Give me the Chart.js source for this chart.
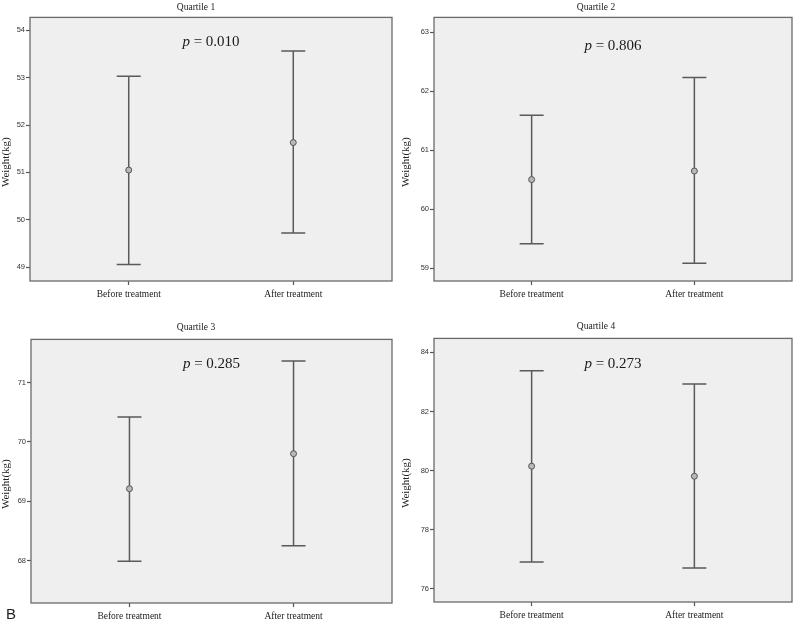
<!DOCTYPE html>
<html><head><meta charset="utf-8">
<script src="https://cdn.jsdelivr.net/npm/chart.js@4.4.0/dist/chart.umd.min.js"></script>
<style>
body{margin:0;background:#fff;width:800px;height:625px;position:relative;overflow:hidden}
.p{position:absolute}
#lblB{position:absolute;left:6px;top:605px;font:15px "Liberation Sans",Arial,sans-serif;color:#222;line-height:18px}
</style></head><body>
<div class="p" style="left:0;top:0;width:400px;height:310px"><canvas id="c1" width="400" height="310"></canvas></div>
<div class="p" style="left:400px;top:0;width:400px;height:310px"><canvas id="c2" width="400" height="310"></canvas></div>
<div class="p" style="left:0;top:310px;width:400px;height:315px"><canvas id="c3" width="400" height="315"></canvas></div>
<div class="p" style="left:400px;top:310px;width:400px;height:315px"><canvas id="c4" width="400" height="315"></canvas></div>
<div id="lblB">B</div>
<script>
// ---- data ----
const categories = ['Before treatment', 'After treatment'];
const panelTitles = ['Quartile 1', 'Quartile 2', 'Quartile 3', 'Quartile 4'];
const pValues = ['0.010', '0.806', '0.285', '0.273'];

const q1Mean = [51.05, 51.63];
const q1Lower = [49.06, 49.72];
const q1Upper = [53.03, 53.56];
const q1Ticks = [49, 50, 51, 52, 53, 54];

const q2Mean = [60.50, 60.645];
const q2Lower = [59.41, 59.08];
const q2Upper = [61.59, 62.23];
const q2Ticks = [59, 60, 61, 62, 63];

const q3Mean = [69.21, 69.80];
const q3Lower = [67.99, 68.25];
const q3Upper = [70.42, 71.36];
const q3Ticks = [68, 69, 70, 71];

const q4Mean = [80.15, 79.81];
const q4Lower = [76.91, 76.71];
const q4Upper = [83.38, 82.93];
const q4Ticks = [76, 78, 80, 82, 84];

const SERIF = '"Liberation Serif","Times New Roman",serif';
const SANS = '"Liberation Sans",Arial,sans-serif';

const panelPlugin = {
  id: 'panel',
  beforeDraw(chart, args, o) {
    const {ctx, chartArea: a} = chart;
    ctx.save();
    ctx.fillStyle = '#efefef';
    ctx.fillRect(a.left, a.top, a.width, a.height);
    ctx.restore();
  },
  beforeDatasetsDraw(chart, args, o) {
    const {ctx, scales: {x, y}} = chart;
    ctx.save();
    ctx.strokeStyle = '#5a5a5a';
    ctx.lineWidth = 1.5;
    const cap = 12;
    o.lower.forEach((lo, i) => {
      const px = x.getPixelForValue(i);
      const pl = y.getPixelForValue(lo);
      const pu = y.getPixelForValue(o.upper[i]);
      ctx.beginPath();
      ctx.moveTo(px, pl); ctx.lineTo(px, pu);
      ctx.moveTo(px - cap, pl); ctx.lineTo(px + cap, pl);
      ctx.moveTo(px - cap, pu); ctx.lineTo(px + cap, pu);
      ctx.stroke();
    });
    ctx.restore();
  },
  afterDraw(chart, args, o) {
    const {ctx, chartArea: a} = chart;
    ctx.save();
    ctx.strokeStyle = '#6a6a6a';
    ctx.lineWidth = 1.3;
    ctx.strokeRect(a.left, a.top, a.width, a.height);
    // p-value annotation
    ctx.fillStyle = '#1a1a1a';
    ctx.textBaseline = 'middle';
    ctx.font = 'italic 15px ' + SERIF;
    const pw = ctx.measureText('p').width;
    ctx.font = '15px ' + SERIF;
    const rest = ' = ' + o.p;
    const rw = ctx.measureText(rest).width;
    const cx = (a.left + a.right) / 2;
    const sx = cx - (pw + rw) / 2;
    const ty = a.top + o.pOffset;
    ctx.font = 'italic 15px ' + SERIF;
    ctx.textAlign = 'left';
    ctx.fillText('p', sx, ty);
    ctx.font = '15px ' + SERIF;
    ctx.fillText(rest, sx + pw, ty);
    // y axis title
    ctx.font = '11px ' + SERIF;
    ctx.fillStyle = '#222';
    ctx.textAlign = 'center';
    ctx.translate(o.yTitleX, (a.top + a.bottom) / 2 + 13);
    ctx.rotate(-Math.PI / 2);
    ctx.fillText('Weight(kg)', 0, 0);
    ctx.restore();
  }
};

function makePanel(id, idx, mean, lower, upper, ticks, yMin, yMax, o) {
  new Chart(document.getElementById(id), {
    type: 'scatter',
    data: {
      datasets: [{
        data: mean.map((v, i) => ({x: i, y: v})),
        pointRadius: 3,
        pointBackgroundColor: '#b8b8b8',
        pointBorderColor: '#555',
        pointBorderWidth: 1
      }]
    },
    options: {
      responsive: false,
      animation: false,
      events: [],
      layout: {padding: {left: 0, right: 8, top: 0, bottom: 0}},
      plugins: {
        legend: {display: false},
        tooltip: {enabled: false},
        title: {
          display: true, text: panelTitles[idx], color: '#222',
          font: {family: SERIF, size: 9.5, weight: 'normal'},
          padding: o.titlePad
        },
        panel: {lower: lower, upper: upper, p: pValues[idx], pOffset: o.pOffset, yTitleX: 6}
      },
      scales: {
        x: {
          type: 'linear', min: -0.6, max: 1.6,
          afterBuildTicks: s => { s.ticks = categories.map((c, i) => ({value: i})); },
          afterFit: s => { s.height = o.xH; },
          grid: {drawOnChartArea: false, drawTicks: true, tickLength: 4, color: '#555', tickWidth: 1.2},
          border: {display: false},
          ticks: {
            callback: v => categories[v],
            color: '#222', padding: 4, maxRotation: 0,
            font: {family: SERIF, size: 9.5}
          }
        },
        y: {
          type: 'linear', min: yMin, max: yMax,
          afterBuildTicks: s => { s.ticks = ticks.map(v => ({value: v})); },
          afterFit: s => { s.width = o.yW; },
          grid: {drawOnChartArea: false, drawTicks: true, tickLength: 4, color: '#555', tickWidth: 1.2},
          border: {display: false},
          ticks: {color: '#333', padding: 1, font: {family: SANS, size: 7.5}}
        }
      }
    },
    plugins: [panelPlugin]
  });
}

makePanel('c1', 0, q1Mean, q1Lower, q1Upper, q1Ticks, 48.71, 54.27,
  {yW: 30, xH: 29, titlePad: {top: 2, bottom: 4}, pOffset: 25});
makePanel('c2', 1, q2Mean, q2Lower, q2Upper, q2Ticks, 58.78, 63.25,
  {yW: 34, xH: 29, titlePad: {top: 2, bottom: 4}, pOffset: 29});
makePanel('c3', 2, q3Mean, q3Lower, q3Upper, q3Ticks, 67.285, 71.725,
  {yW: 31, xH: 22, titlePad: {top: 12, bottom: 6}, pOffset: 25});
makePanel('c4', 3, q4Mean, q4Lower, q4Upper, q4Ticks, 75.56, 84.47,
  {yW: 34, xH: 23, titlePad: {top: 11, bottom: 6}, pOffset: 26});
</script>
</body></html>
